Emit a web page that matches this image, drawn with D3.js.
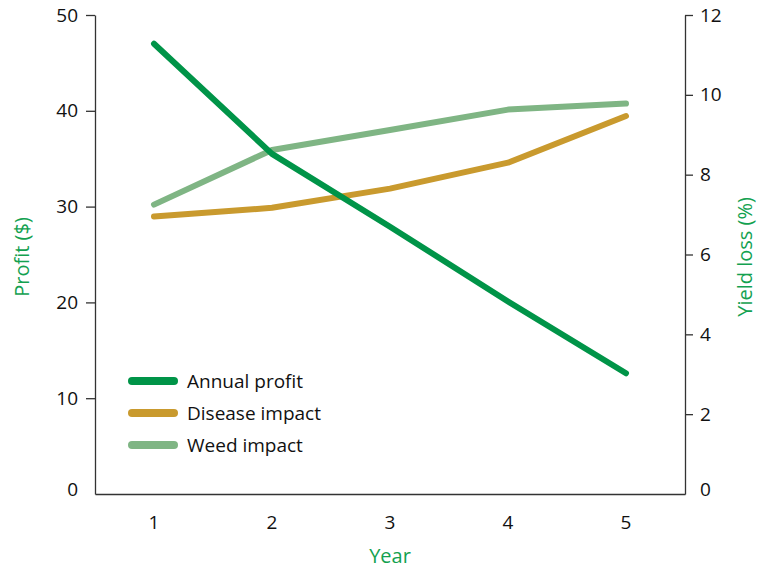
<!DOCTYPE html>
<html>
<head>
<meta charset="utf-8">
<script src="https://cdn.jsdelivr.net/npm/d3@7"></script>
<style>
  body { margin: 0; background: #fff; }
  svg text { font-family: "Open Sans", sans-serif; }
</style>
</head>
<body>
<svg id="chart" width="757" height="572"></svg>
<script>
// data
const years = ["1", "2", "3", "4", "5"];
const annualProfit = [47.0, 35.5, 27.9, 20.1, 12.6];   // left axis, $
const diseaseImpact = [6.95, 7.17, 7.65, 8.3, 9.47];   // right axis, %
const weedImpact = [7.25, 8.62, 9.12, 9.63, 9.78];     // right axis, %
const profitTicks = [0, 10, 20, 30, 40, 50];
const yieldTicks = [0, 2, 4, 6, 8, 10, 12];

const margin = {top: 15, right: 72, bottom: 78, left: 95};
const width = 757, height = 572;
const innerW = width - margin.left - margin.right;
const innerH = height - margin.top - margin.bottom;

const axisCol = "#333";
const titleCol = "#13a150";

const svg = d3.select("#chart");
const g = svg.append("g").attr("transform", `translate(${margin.left},${margin.top})`);

const x = d3.scaleBand().domain(years).range([0, innerW]);
const yL = d3.scaleLinear().domain([0, 50]).range([innerH, 0]);
const yR = d3.scaleLinear().domain([0, 12]).range([innerH, 0]);

// left axis
const left = g.append("g")
  .call(d3.axisLeft(yL).tickValues(profitTicks).tickSize(9).tickPadding(8).tickSizeOuter(0));
left.selectAll("text").style("font-size", "19px").attr("fill", "#111");
left.selectAll(".tick").filter(d => d === 0).select("line").remove();
left.selectAll(".tick").filter(d => d === 0).select("text").attr("dy", "0.1em");

// right axis
const right = g.append("g")
  .attr("transform", `translate(${innerW},0)`)
  .call(d3.axisRight(yR).tickValues(yieldTicks).tickSize(8).tickPadding(7).tickSizeOuter(0));
right.selectAll("text").style("font-size", "19px").attr("fill", "#111");
right.selectAll(".tick").filter(d => d === 0).select("line").remove();
right.selectAll(".tick").filter(d => d === 0).select("text").attr("dy", "0.1em");

// bottom axis: ticks at band boundaries, labels at band centres
const bottom = g.append("g")
  .attr("transform", `translate(0,${innerH})`)
  .call(d3.axisBottom(x).tickSize(0).tickPadding(22).tickSizeOuter(0));
bottom.selectAll("text").style("font-size", "19px").attr("fill", "#111");
bottom.selectAll(".sep")
  .data(years.slice(1))
  .join("line")
  .attr("x1", d => x(d)).attr("x2", d => x(d))
  .attr("y1", 0).attr("y2", 10);

g.selectAll(".domain, .tick line, .sep").attr("stroke", axisCol).attr("stroke-width", 1.3);

// axis titles
svg.append("text")
  .attr("transform", `translate(29,257) rotate(-90)`)
  .attr("text-anchor", "middle")
  .attr("fill", titleCol).style("font-size", "20px")
  .text("Profit ($)");
svg.append("text")
  .attr("transform", `translate(752,257) rotate(-90)`)
  .attr("text-anchor", "middle")
  .attr("fill", titleCol).style("font-size", "20px")
  .text("Yield loss (%)");
svg.append("text")
  .attr("x", margin.left + innerW / 2).attr("y", 563)
  .attr("text-anchor", "middle")
  .attr("fill", titleCol).style("font-size", "20px")
  .text("Year");

// series
const series = [
  {name: "Weed impact", values: weedImpact, scale: yR, color: "#7fb584"},
  {name: "Disease impact", values: diseaseImpact, scale: yR, color: "#c99a2e"},
  {name: "Annual profit", values: annualProfit, scale: yL, color: "#009448"}
];

series.forEach(s => {
  const line = d3.line()
    .x((d, i) => x(years[i]) + x.bandwidth() / 2)
    .y(d => s.scale(d));
  g.append("path")
    .datum(s.values)
    .attr("d", line)
    .attr("fill", "none")
    .attr("stroke", s.color)
    .attr("stroke-width", 6)
    .attr("stroke-linecap", "round")
    .attr("stroke-linejoin", "round");
});

// legend
const legendItems = series.slice().reverse();
const legend = svg.append("g").attr("transform", "translate(130,381)");
legendItems.forEach((s, i) => {
  const row = legend.append("g").attr("transform", `translate(0,${i * 32})`);
  row.append("line")
    .attr("x1", 2).attr("x2", 44)
    .attr("stroke", s.color).attr("stroke-width", 8).attr("stroke-linecap", "round");
  row.append("text")
    .attr("x", 57).attr("dy", "0.35em")
    .style("font-size", "19px").attr("fill", "#111")
    .text(s.name);
});
</script>
</body>
</html>
